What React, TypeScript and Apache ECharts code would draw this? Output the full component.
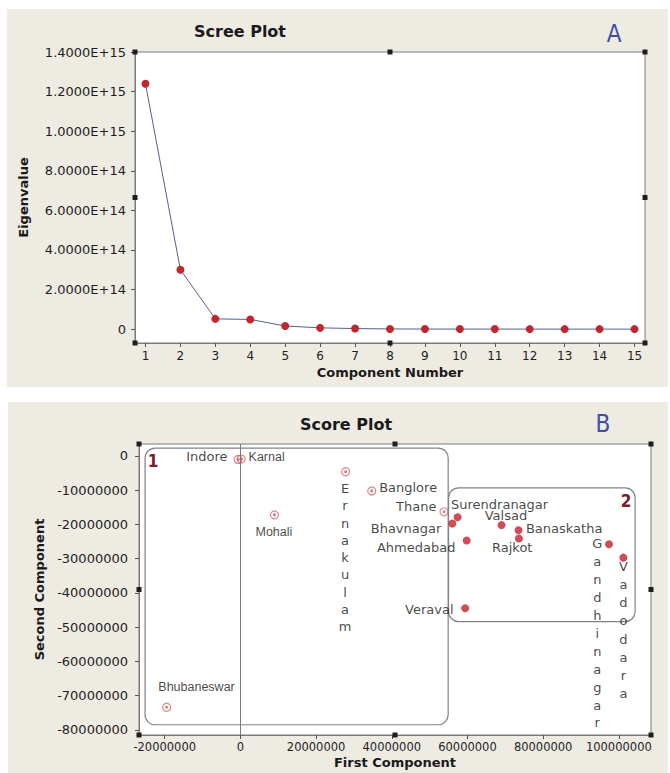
import React, { useEffect, useRef } from "react";
import * as echarts from "echarts";

// ---------- Data ----------
const componentNumbers = [1, 2, 3, 4, 5, 6, 7, 8, 9, 10, 11, 12, 13, 14, 15];
const eigenvalues = [
  1.24e15, 3.0e14, 5.2e13, 4.9e13, 1.6e13, 6.5e12, 3.0e12, 1.0e12, 6e11, 4e11,
  3e11, 2e11, 1.5e11, 1e11, 5e10,
];
const eigenTicks = [0, 2e14, 4e14, 6e14, 8e14, 1e15, 1.2e15, 1.4e15];

const cities = [
  "Indore", "Karnal", "Mohali", "Ernakulam", "Banglore", "Thane", "Bhubaneswar",
  "Surendranagar", "Bhavnagar", "Valsad", "Banaskatha", "Rajkot", "Ahmedabad",
  "Veraval", "Gandhinagar", "Vadodara",
];
const firstComponent = [
  -0.6e6, 0.2e6, 9.0e6, 27.8e6, 34.7e6, 53.8e6, -19.5e6,
  57.4e6, 56.0e6, 69.0e6, 73.5e6, 73.6e6, 59.8e6, 59.4e6, 97.4e6, 101.2e6,
];
const secondComponent = [
  -1.0e6, -0.9e6, -17.2e6, -4.6e6, -10.2e6, -16.3e6, -73.4e6,
  -17.9e6, -19.7e6, -20.2e6, -21.7e6, -24.1e6, -24.7e6, -44.5e6, -25.8e6, -29.7e6,
];
const cluster = [1, 1, 1, 1, 1, 1, 1, 2, 2, 2, 2, 2, 2, 2, 2, 2];
const firstTicks = [-2e7, 0, 2e7, 4e7, 6e7, 8e7, 1e8];
const secondTicks = [0, -1e7, -2e7, -3e7, -4e7, -5e7, -6e7, -7e7, -8e7];

// cluster outline extents in data units [xMin, xMax, yTop, yBottom]
const clusterBox1 = [-25.2e6, 54.9e6, 2.3e6, -78.5e6];
const clusterBox2 = [55.0e6, 104.3e6, -9.3e6, -48.4e6];

// ---------- Label placement (offset from point centre, px) ----------
type LL = { dx: number; dy: number; align: string; vertical?: boolean; lh?: number; narrow?: boolean };
const labelLayout: Record<string, LL> = {
  Indore: { dx: -10, dy: -2, align: "right" },
  Karnal: { dx: 8, dy: -1, align: "left", narrow: true },
  Mohali: { dx: 0, dy: 18, align: "center", narrow: true },
  Ernakulam: { dx: 0, dy: 17.3, align: "center", vertical: true, lh: 17.3 },
  Banglore: { dx: 8, dy: -3, align: "left" },
  Thane: { dx: -7, dy: -5, align: "right" },
  Bhubaneswar: { dx: -7.7, dy: -19.3, align: "left", narrow: true },
  Surendranagar: { dx: -6.6, dy: -12.8, align: "left" },
  Bhavnagar: { dx: -11, dy: 4.7, align: "right" },
  Valsad: { dx: 4.4, dy: -9.3, align: "center" },
  Banaskatha: { dx: 7.4, dy: -1.3, align: "left" },
  Rajkot: { dx: -6.7, dy: 9.3, align: "center" },
  Ahmedabad: { dx: -11.3, dy: 7.3, align: "right" },
  Veraval: { dx: -11.7, dy: 0.7, align: "right" },
  Gandhinagar: { dx: -11.7, dy: -0.3, align: "center", vertical: true, lh: 17.9 },
  Vadodara: { dx: 0, dy: 9, align: "center", vertical: true, lh: 18.1 },
};

const SYM = 8;
const FONT = "'DejaVu Sans', Verdana, sans-serif";
const NARROW = "'Liberation Sans', Arial, sans-serif";

function buildItem(i: number) {
  const name = cities[i];
  const L = labelLayout[name];
  const lh = L.lh || 15;
  const top = L.vertical ? L.dy - lh / 2 : L.dy;
  return {
    name,
    value: [firstComponent[i], secondComponent[i]],
    label: {
      show: true,
      position: [L.dx + SYM / 2, top + SYM / 2],
      align: L.align,
      verticalAlign: L.vertical ? "top" : "middle",
      lineHeight: lh,
      formatter: L.vertical ? name.split("").join("\n") : name,
      fontFamily: L.narrow ? NARROW : FONT,
      fontSize: L.narrow ? 12.5 : 13,
      color: "#141414",
    },
  };
}

const GA = { left: 135, top: 52, width: 510, height: 291 };
const GB = { left: 139, top: 444, width: 512, height: 291 };

function handles(g: { left: number; top: number; width: number; height: number }) {
  const xs = [g.left, g.left + g.width / 2, g.left + g.width];
  const ys = [g.top, g.top + g.height / 2, g.top + g.height];
  const out: any[] = [];
  for (const x of xs)
    for (const y of ys) {
      if (x === g.left + g.width / 2 && y === g.top + g.height / 2) continue;
      out.push({
        type: "rect",
        z: 20,
        silent: true,
        shape: { x: x - 2.5, y: y - 2.5, width: 5, height: 5 },
        style: { fill: "#1e1e1e" },
      });
    }
  return out;
}

export default function App() {
  const ref = useRef<HTMLDivElement>(null);

  useEffect(() => {
    const chart = echarts.init(ref.current!, null, { renderer: "svg" });
    const tickLabel = { color: "#1e1e1e", fontFamily: FONT, fontSize: 13 };
    const nameStyle = { color: "#1a1a1a", fontFamily: FONT, fontSize: 13, fontWeight: "bold" };
    const axisLine = { show: true, onZero: false, lineStyle: { color: "#7a7a7a", width: 1 } };
    const axisTick = (vals: number[]) => ({
      show: true,
      length: 4,
      customValues: vals,
      lineStyle: { color: "#555" },
    });

    const idx1 = cities.map((_, i) => i).filter((i) => cluster[i] === 1);
    const idx2 = cities.map((_, i) => i).filter((i) => cluster[i] === 2);

    chart.setOption({
      animation: false,
      backgroundColor: "#ffffff",
      title: [
        {
          text: "Scree Plot",
          left: 240,
          top: 23,
          textAlign: "center",
          padding: 0,
          textStyle: { fontFamily: FONT, fontSize: 16, fontWeight: "bold", color: "#1a1a1a" },
        },
        {
          text: "Score Plot",
          left: 346,
          top: 416,
          textAlign: "center",
          padding: 0,
          textStyle: { fontFamily: FONT, fontSize: 16, fontWeight: "bold", color: "#1a1a1a" },
        },
      ],
      grid: [
        { ...GA, show: true, backgroundColor: "#ffffff", borderColor: "#7a7a7a", borderWidth: 1 },
        { ...GB, show: true, backgroundColor: "#ffffff", borderColor: "#7a7a7a", borderWidth: 1 },
      ],
      xAxis: [
        {
          type: "value",
          gridIndex: 0,
          min: 0.7,
          max: 15.3,
          axisLine,
          axisTick: axisTick(componentNumbers),
          splitLine: { show: false },
          axisLabel: { ...tickLabel, fontSize: 12, margin: 7, customValues: componentNumbers },
          name: "Component Number",
          nameLocation: "middle",
          nameGap: 23,
          nameTextStyle: nameStyle,
        },
        {
          type: "value",
          gridIndex: 1,
          min: -26.8e6,
          max: 108.5e6,
          axisLine,
          axisTick: axisTick(firstTicks),
          splitLine: { show: false },
          axisLabel: {
            ...tickLabel,
            fontSize: 11.5,
            margin: 6,
            customValues: firstTicks,
            formatter: (v: number) => String(Math.round(v)),
          },
          name: "First Component",
          nameLocation: "middle",
          nameGap: 21,
          nameTextStyle: nameStyle,
        },
      ],
      yAxis: [
        {
          type: "value",
          gridIndex: 0,
          min: -7e13,
          max: 1.4e15,
          axisLine,
          axisTick: axisTick(eigenTicks),
          splitLine: { show: false },
          axisLabel: {
            ...tickLabel,
            margin: 9,
            customValues: eigenTicks,
            formatter: (v: number) => (v === 0 ? "0" : v.toExponential(4).toUpperCase()),
          },
          name: "Eigenvalue",
          nameLocation: "middle",
          nameGap: 105,
          nameTextStyle: nameStyle,
        },
        {
          type: "value",
          gridIndex: 1,
          min: -81.5e6,
          max: 3.5e6,
          axisLine,
          axisTick: axisTick(secondTicks),
          splitLine: { show: false },
          axisLabel: {
            ...tickLabel,
            margin: 11,
            customValues: secondTicks,
            formatter: (v: number) => String(Math.round(v)),
          },
          name: "Second Component",
          nameLocation: "middle",
          nameGap: 93,
          nameTextStyle: nameStyle,
        },
      ],
      series: [
        {
          type: "line",
          xAxisIndex: 0,
          yAxisIndex: 0,
          data: componentNumbers.map((c, i) => [c, eigenvalues[i]]),
          symbol: "circle",
          symbolSize: 8,
          lineStyle: { color: "#55608f", width: 1 },
          itemStyle: { color: "#c0262d" },
          z: 3,
        },
        {
          type: "scatter",
          name: "Cluster 1",
          xAxisIndex: 1,
          yAxisIndex: 1,
          symbol: "circle",
          symbolSize: SYM,
          itemStyle: { color: "rgba(255,255,255,0)", borderColor: "#d4686c", borderWidth: 1.2 },
          data: idx1.map(buildItem),
          markLine: {
            silent: true,
            symbol: "none",
            label: { show: false },
            lineStyle: { color: "#7a7a7a", width: 1, type: "solid" },
            data: [{ xAxis: 0 }],
          },
          z: 3,
        },
        {
          type: "scatter",
          name: "Cluster 1 centre",
          xAxisIndex: 1,
          yAxisIndex: 1,
          symbol: "circle",
          symbolSize: 3,
          silent: true,
          itemStyle: { color: "#d05a5f" },
          data: idx1.map((i) => [firstComponent[i], secondComponent[i]]),
          z: 4,
        },
        {
          type: "scatter",
          name: "Cluster 2",
          xAxisIndex: 1,
          yAxisIndex: 1,
          symbol: "circle",
          symbolSize: SYM,
          itemStyle: { color: "#c1232b" },
          data: idx2.map(buildItem),
          z: 3,
        },
      ],
    });

    const px = (x: number, y: number) => chart.convertToPixel({ gridIndex: 1 } as any, [x, y]) as number[];
    const boxRect = (b: number[]) => {
      const p1 = px(b[0], b[2]);
      const p2 = px(b[1], b[3]);
      return {
        type: "rect",
        z: 1,
        silent: true,
        shape: { x: p1[0], y: p1[1], width: p2[0] - p1[0], height: p2[1] - p1[1], r: 10 },
        style: { fill: "none", stroke: "#7f838c", lineWidth: 1.2 },
      };
    };

    chart.setOption({
      graphic: [
        { type: "rect", z: -10, silent: true, shape: { x: 7, y: 9, width: 661, height: 378 }, style: { fill: "#eeebe3" } },
        { type: "rect", z: -10, silent: true, shape: { x: 8, y: 402, width: 660, height: 371 }, style: { fill: "#eeebe3" } },
        boxRect(clusterBox1),
        boxRect(clusterBox2),
        ...handles(GA),
        ...handles(GB),
        {
          type: "text",
          z: 20,
          x: 614,
          y: 34,
          style: {
            text: "A",
            fill: "#3f4fa6",
            font: "24px 'Liberation Sans Narrow', 'DejaVu Sans Condensed', 'DejaVu Sans', sans-serif",
            align: "center",
            verticalAlign: "middle",
          },
        },
        {
          type: "text",
          z: 20,
          x: 603,
          y: 424,
          style: {
            text: "B",
            fill: "#3f4fa6",
            font: "24px 'Liberation Sans Narrow', 'DejaVu Sans Condensed', 'DejaVu Sans', sans-serif",
            align: "center",
            verticalAlign: "middle",
          },
        },
        {
          type: "text",
          z: 20,
          x: 153,
          y: 461,
          style: {
            text: "1",
            fill: "#7a1c2c",
            font: "bold 17px 'DejaVu Sans Condensed', 'DejaVu Sans', sans-serif",
            align: "center",
            verticalAlign: "middle",
          },
        },
        {
          type: "text",
          z: 20,
          x: 626,
          y: 501,
          style: {
            text: "2",
            fill: "#7a1c2c",
            font: "bold 17px 'DejaVu Sans Condensed', 'DejaVu Sans', sans-serif",
            align: "center",
            verticalAlign: "middle",
          },
        },
      ],
    });

    return () => chart.dispose();
  }, []);

  return (
    <div
      ref={ref}
      style={{ position: "absolute", left: 0, top: 0, width: 670, height: 773 }}
    />
  );
}
